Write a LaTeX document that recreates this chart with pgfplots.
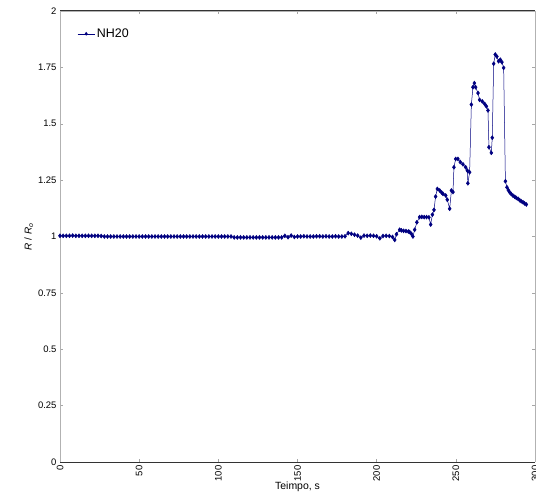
\documentclass[border=0pt]{standalone}
\usepackage{pgfplots}
\pgfplotsset{compat=1.18}
\usepackage{fontspec}
\setmainfont{Liberation Sans}
\definecolor{navy}{RGB}{0,0,128}
\begin{document}
\begin{tikzpicture}[x=1bp,y=1bp]
\path[use as bounding box] (-60,-42) rectangle (476,462);
\begin{axis}[
  at={(0,0)}, anchor=south west,
  scale only axis, width=475bp, height=451bp,
  xmin=0, xmax=300, ymin=0, ymax=2,
  xtick={0,50,...,300}, ytick={0,0.25,...,2},
  yticklabels={0,0.25,0.5,0.75,1,1.25,1.5,1.75,2},
  xticklabel style={rotate=90, anchor=east, font=\fontsize{9.5}{10}\selectfont},
  yticklabel style={font=\fontsize{9.5}{10}\selectfont},
  /pgf/number format/assume math mode=true,
  tick align=inside, major tick length=3bp,
  tick style={gray!70, line width=0.4pt},
  axis line style={gray!60, line width=0.6pt},
  separate axis lines,
  x axis line style={black!80, line width=1pt},
  xlabel={Teimpo, s},
  xlabel style={font=\fontsize{10.5}{12}\selectfont, yshift=6bp},
  ylabel={\textit{R} / \textit{R}\textsubscript{\textit{o}}},
  ylabel style={font=\fontsize{10}{12}\selectfont, yshift=-2bp},
  legend style={draw=none, fill=none, at={(0.03,0.97)}, anchor=north west,
    font=\fontsize{12.5}{14}\selectfont, legend cell align=left},
  legend image post style={mark size=1.5pt},
  clip=false,
]
\addplot[color=navy, line width=0.5pt, mark=diamond*, mark size=2pt,
  mark options={fill=navy}] coordinates {
(0,1.003)(2,1.003)(4,1.003)(6,1.003)(8,1.004)(10,1.003)(12,1.003)(14,1.003)(16,1.003)(18,1.003)
(20,1.003)(22,1.003)(24,1.003)(26,1.002)(28,1.000)(30,1.000)(32,1.000)(34,1.000)(36,1.000)(38,1.000)
(40,1.000)(42,1.000)(44,1.000)(46,1.000)(48,1.000)(50,1.000)(52,1.000)(54,1.000)(56,1.000)(58,1.000)
(60,1.000)(62,1.000)(64,1.000)(66,1.000)(68,1.000)(70,1.000)(72,1.000)(74,1.000)(76,1.000)(78,1.000)
(80,1.000)(82,1.000)(84,1.000)(86,1.000)(88,1.000)(90,1.000)(92,1.000)(94,1.000)(96,1.000)(98,1.000)
(100,1.000)(102,1.000)(104,1.000)(106,1.000)(108,1.000)(110,0.996)(112,0.996)(114,0.996)(116,0.996)(118,0.996)
(120,0.996)(122,0.996)(124,0.996)(126,0.996)(128,0.996)(130,0.996)(132,0.996)(134,0.996)(136,0.996)(138,0.996)
(140,0.996)(142,1.003)(144,0.997)(146,1.004)(148,0.998)(150,1.000)(152,1.000)(154,1.001)(156,1.000)(158,1.000)
(160,1.000)(162,1.001)(164,1.001)(166,1.000)(168,1.001)(170,1.000)(172,1.000)(174,1.001)(176,1.000)(178,1.000)
(180,1.001)(182,1.015)(184,1.012)(186,1.008)(188,1.004)(190,0.995)(192,1.004)(194,1.003)(196,1.004)(198,1.003)
(200,1.001)(202,0.992)(204,1.002)(206,1.003)(208,1.002)(210,0.998)(211.4,0.985)
(212.5,1.010)(214.5,1.030)(215.6,1.027)(217,1.025)(218.5,1.024)(220,1.022)(220.8,1.020)(221.9,1.012)(222.9,1.000)
(224.0,1.030)(225.4,1.063)(227.1,1.086)(228.5,1.087)(230,1.086)(231.5,1.086)(233.0,1.085)(234.1,1.053)
(235.2,1.097)(236.2,1.118)(237.2,1.177)(238.3,1.211)(239.8,1.204)(241,1.195)(241.9,1.189)(243.6,1.182)
(244.6,1.163)(246.1,1.123)(247.2,1.204)(248.2,1.197)(248.8,1.307)(249.9,1.344)(251.3,1.344)(252.8,1.330)
(254.5,1.320)(256.2,1.307)(257.3,1.292)(257.6,1.236)(258.7,1.285)(259.8,1.585)(260.8,1.662)(261.7,1.680)
(262.5,1.662)(264.0,1.636)(265.0,1.606)(266.7,1.599)(268.2,1.588)(269.3,1.577)(270.3,1.559)(270.9,1.396)
(272.4,1.371)(273.0,1.438)(273.9,1.766)(274.9,1.807)(275.9,1.798)(277.0,1.777)(278.1,1.784)(279.1,1.773)
(280.2,1.748)(281.3,1.245)(282.3,1.218)(283.2,1.205)(284.0,1.196)(285,1.188)(286.1,1.181)(287.2,1.176)
(288.2,1.171)(289.3,1.167)(290.3,1.161)(291.3,1.156)(292.4,1.152)(293.4,1.147)(294.5,1.142)
};
\addlegendentry{NH20}
\draw[gray!60, line width=0.6pt] (rel axis cs:0,1) -- (rel axis cs:1,1) -- (rel axis cs:1,0);
\end{axis}
\end{tikzpicture}
\end{document}
